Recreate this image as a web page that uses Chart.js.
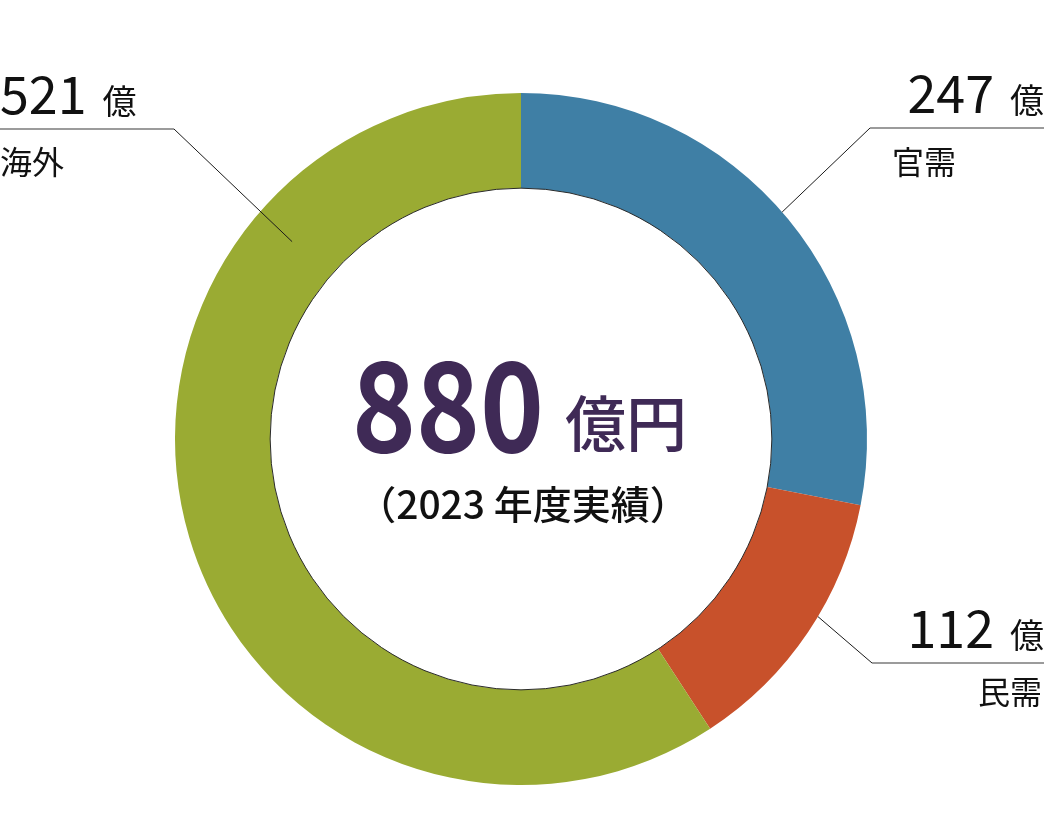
<!DOCTYPE html>
<html>
<head>
<meta charset="utf-8">
<script src="https://cdn.jsdelivr.net/npm/chart.js@4"></script>
<style>
  html, body { margin: 0; padding: 0; background: #fff; }
  #wrap { width: 1044px; height: 839px; position: relative; }
</style>
</head>
<body>
<div id="wrap"><canvas id="donut"></canvas></div>
<script>
const categories = ['官需', '民需', '海外'];
const values = [247, 112, 521];
const colors = ['#3f7fa5', '#c8512b', '#9aab33'];
const totalLabel = '880';
const unitLabel = '億円';
const yearLabel = '（2023 年度実績）';

const FONT = '"Noto Sans CJK JP", "Noto Sans", sans-serif';

// where each leader line touches its slice (fraction along arc, fraction across ring)
// and where its elbow / labels sit
const callouts = [
  { idx: 0, along: 0.485, across: 1.0, elbow: [870, 128], end: 1044, side: 'right', numY: 113, nameX: 892, nameY: 174 },
  { idx: 1, along: 0.433, across: 1.0, elbow: [872, 663], end: 1044, side: 'right', numY: 648, nameX: 978, nameY: 704 },
  { idx: 2, along: 0.769, across: 0.54, elbow: [174, 129], end: 0, side: 'left', numY: 114, nameX: 0, nameY: 174 }
];

const overlay = {
  id: 'overlay',
  afterDraw(chart) {
    const ctx = chart.ctx;
    const arcs = chart.getDatasetMeta(0).data;
    const a0 = arcs[0];
    ctx.save();

    // thin ring on inner edge
    ctx.beginPath();
    ctx.arc(a0.x, a0.y, a0.innerRadius, 0, Math.PI * 2);
    ctx.strokeStyle = '#2a2a2a';
    ctx.lineWidth = 1;
    ctx.stroke();

    callouts.forEach(c => {
      const arc = arcs[c.idx];
      const ang = arc.startAngle + (arc.endAngle - arc.startAngle) * c.along;
      const r = arc.innerRadius + (arc.outerRadius - arc.innerRadius) * c.across;
      const px = arc.x + Math.cos(ang) * r;
      const py = arc.y + Math.sin(ang) * r;

      ctx.beginPath();
      ctx.moveTo(px, py);
      ctx.lineTo(c.elbow[0], c.elbow[1]);
      ctx.strokeStyle = '#1a1a1a';
      ctx.lineWidth = 1;
      ctx.stroke();

      ctx.beginPath();
      ctx.moveTo(c.elbow[0], c.elbow[1]);
      ctx.lineTo(c.end, c.elbow[1]);
      ctx.strokeStyle = '#7a7a7a';
      ctx.lineWidth = 1.5;
      ctx.stroke();

      ctx.fillStyle = '#111';
      ctx.textBaseline = 'alphabetic';
      ctx.textAlign = 'left';
      const num = String(values[c.idx]);
      ctx.font = '52px ' + FONT;
      const numW = ctx.measureText(num).width;
      const gap = 16;
      const x0 = c.side === 'left' ? 0 : 1010 - gap - numW;
      ctx.fillText(num, x0, c.numY);
      ctx.font = '34px ' + FONT;
      ctx.fillText('億', x0 + numW + gap, c.numY);

      ctx.font = '32px ' + FONT;
      ctx.fillText(categories[c.idx], c.nameX, c.nameY);
    });

    // centre text
    ctx.fillStyle = '#3f2a56';
    ctx.textAlign = 'left';
    ctx.font = 'bold 124px ' + FONT;
    const sx = 0.875;
    ctx.save();
    ctx.translate(352, 452);
    ctx.scale(sx, 1);
    ctx.fillText(totalLabel, 0, 0);
    ctx.restore();
    ctx.font = '500 61px ' + FONT;
    ctx.fillText(unitLabel, 565, 447);

    ctx.fillStyle = '#111';
    ctx.textAlign = 'center';
    ctx.font = '500 39px ' + FONT;
    ctx.fillText(yearLabel, a0.x + 2, 519);

    ctx.restore();
  }
};

new Chart(document.getElementById('donut'), {
  type: 'doughnut',
  data: {
    labels: categories,
    datasets: [{ data: values, backgroundColor: colors, borderWidth: 0 }]
  },
  options: {
    responsive: true,
    maintainAspectRatio: false,
    animation: false,
    cutout: '72.5%',
    layout: { padding: { left: 175, right: 177, top: 93, bottom: 54 } },
    plugins: { legend: { display: false }, tooltip: { enabled: false } }
  },
  plugins: [overlay]
});
</script>
</body>
</html>
